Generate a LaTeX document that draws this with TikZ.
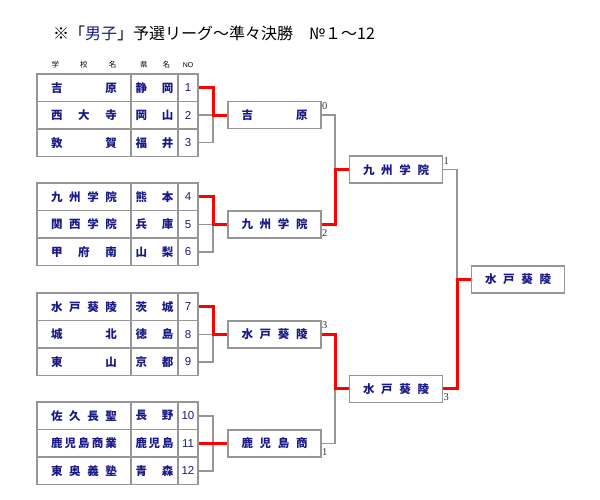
\documentclass[tikz,border=0pt]{standalone}
\usepackage{fontspec}
\setmainfont{Liberation Sans}
\newfontfamily\jpfont{Noto Sans CJK JP}
\newfontfamily\scorefont{Liberation Serif}
\definecolor{teamBlue}{RGB}{25,25,135}
\definecolor{frameGray}{RGB}{150,150,150}
\definecolor{winRed}{RGB}{255,0,0}
\usetikzlibrary{positioning, backgrounds}
\newcommand{\spreadname}[2]{\makebox[#1][s]{#2}}

\begin{document}
\begin{tikzpicture}[
    x=1pt, y=-1pt,
    cell/.style={rectangle, draw=frameGray, line width=1.5pt, outer sep=0pt, inner sep=0pt,
                 minimum height=27.5pt, text=teamBlue, font=\jpfont\bfseries\fontsize{11.5}{12}\selectfont},
    namecell/.style={cell, minimum width=94pt},
    prefcell/.style={cell, minimum width=47pt},
    nocell/.style={cell, minimum width=20pt, font=\fontsize{11.5}{12}\selectfont},
    team/.style={rectangle, draw=frameGray, fill=white, line width=1.5pt, outer sep=0pt,
                 minimum width=93pt, minimum height=27pt, inner sep=0pt, text=teamBlue,
                 font=\jpfont\bfseries\fontsize{11.5}{12}\selectfont},
    head/.style={inner sep=0pt, font=\jpfont\fontsize{7.5}{8}\selectfont},
    score/.style={inner sep=1pt, text=black!80, font=\scorefont\fontsize{10.5}{11}\selectfont},
    link/.style={draw=frameGray, line width=1.5pt},
    winlink/.style={draw=winRed, line width=3pt},
  ]
    \useasboundingbox (0,0) rectangle (600,500);

    % title
    \node[anchor=west, inner sep=0pt, font=\jpfont\fontsize{16}{18}\selectfont] (TITLE) at (53,33)
      {※「\textcolor{teamBlue}{男子}」予選リーグ〜準々決勝　№１〜12};

    % table head
    \node[head] (H_SCH) at (84,65) {\spreadname{65pt}{学 校 名}};
    \node[head] (H_PREF) at (155,65) {\spreadname{30pt}{県 名}};
    \node[head, font=\fontsize{7}{8}\selectfont] (H_NO) at (188,65) {NO};

    % entry table
    \foreach \n/\sch/\pref/\y in {1/吉 原/静 岡/87.75, 2/西 大 寺/岡 山/115.25, 3/敦 賀/福 井/142.75,
        4/九 州 学 院/熊 本/196.75, 5/関 西 学 院/兵 庫/224.25, 6/甲 府 南/山 梨/251.75,
        7/水 戸 葵 陵/茨 城/306.75, 8/城 北/徳 島/334.25, 9/東 山/京 都/361.75,
        10/佐 久 長 聖/長 野/415.75, 11/鹿 児 島 商 業/鹿 児 島/443.25, 12/東 奥 義 塾/青 森/470.75} {
      \node[namecell] (S\n) at (84,\y) {\spreadname{66pt}{\sch}};
      \node[prefcell, right=0pt of S\n] (P\n) {\spreadname{38pt}{\pref}};
      \node[nocell, right=0pt of P\n] (N\n) {\n};
    }

    % first round
    \node[team] (R1A) at (274.5,115.25) {\spreadname{66pt}{吉 原}};
    \node[team] (R1B) at (274.5,224.25) {\spreadname{66pt}{九 州 学 院}};
    \node[team] (R1C) at (274.5,334.25) {\spreadname{66pt}{水 戸 葵 陵}};
    \node[team] (R1D) at (274.5,443.25) {\spreadname{66pt}{鹿 児 島 商}};

    % second round and final
    \node[team] (R2A) at (396,169.75) {\spreadname{66pt}{九 州 学 院}};
    \node[team] (R2B) at (396,388.75) {\spreadname{66pt}{水 戸 葵 陵}};
    \node[team] (FIN) at (518,279.25) {\spreadname{66pt}{水 戸 葵 陵}};

    % scores
    \node[score, anchor=north west] (SC1A) at (R1A.north east) {0};
    \node[score, anchor=south west] (SC1B) at (R1B.south east) {2};
    \node[score, anchor=north west] (SC1C) at (R1C.north east) {3};
    \node[score, anchor=south west] (SC1D) at (R1D.south east) {1};
    \node[score, anchor=north west] (SC2A) at (R2A.north east) {1};
    \node[score, anchor=south west] (SC2B) at (R2B.south east) {3};

    \begin{scope}[on background layer]
      \draw[link] (N1.east) -- ++(15,0) |- (N3.east);
      \draw[link] (N2.east) -- (R1A.west);
      \draw[link] (N4.east) -- ++(15,0) |- (N6.east);
      \draw[link] (N5.east) -- (R1B.west);
      \draw[link] (N7.east) -- ++(15,0) |- (N9.east);
      \draw[link] (N8.east) -- (R1C.west);
      \draw[link] (N10.east) -- ++(15,0) |- (N12.east);
      \draw[link] (N11.east) -- (R1D.west);
      \draw[link] (R1A.east) -- ++(14,0) |- (R2A.west);
      \draw[link] (R1B.east) -- ++(14,0) |- (R2A.west);
      \draw[link] (R1C.east) -- ++(14,0) |- (R2B.west);
      \draw[link] (R1D.east) -- ++(14,0) |- (R2B.west);
      \draw[link] (R2A.east) -- ++(14.5,0) |- (FIN.west);
      \draw[link] (R2B.east) -- ++(14.5,0) |- (FIN.west);

      % winners
      \draw[winlink] (N1.east) -- ++(15,0) |- (R1A.west);
      \draw[winlink] (N4.east) -- ++(15,0) |- (R1B.west);
      \draw[winlink] (N7.east) -- ++(15,0) |- (R1C.west);
      \draw[winlink] (N11.east) -- (R1D.west);
      \draw[winlink] (R1B.east) -- ++(14,0) |- (R2A.west);
      \draw[winlink] (R1C.east) -- ++(14,0) |- (R2B.west);
      \draw[winlink] (R2B.east) -- ++(14.5,0) |- (FIN.west);
    \end{scope}
  \end{tikzpicture}
\end{document}
